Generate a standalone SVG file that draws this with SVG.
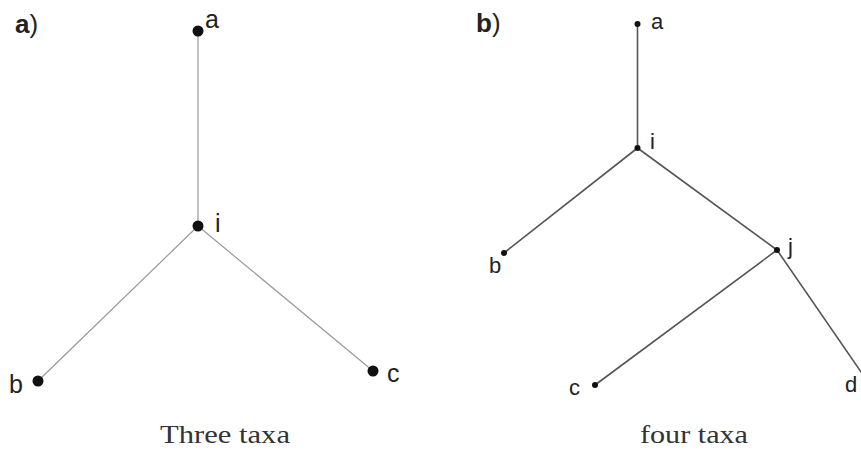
<svg xmlns="http://www.w3.org/2000/svg" width="861" height="450" viewBox="0 0 861 450">
<style>
.lbl{font-family:"Liberation Sans",Arial,sans-serif;font-size:25px;fill:#222}
.lblb{font-family:"Liberation Sans",Arial,sans-serif;font-size:22px;fill:#222}
.panel{font-family:"Liberation Sans",Arial,sans-serif;font-size:26px;fill:#222}
.cap{font-family:"Liberation Serif","Times New Roman",serif;font-size:26px;fill:#333}
.ea{stroke:#999;stroke-width:1.2;fill:none}
.eb{stroke:#555;stroke-width:1.6;fill:none}
.da{fill:#111}
.db{fill:#111}
</style>
<rect width="861" height="450" fill="#fff"/>
<text class="panel" x="15" y="33"><tspan font-weight="bold">a</tspan>)</text>
<text class="panel" x="476" y="32"><tspan font-weight="bold">b</tspan>)</text>
<g id="connectors">
<line class="ea" x1="198" y1="31" x2="198" y2="226"/>
<line class="ea" x1="198" y1="226" x2="38" y2="381"/>
<line class="ea" x1="198" y1="226" x2="373" y2="371"/>
<line class="eb" x1="637.5" y1="24" x2="637.5" y2="148"/>
<line class="eb" x1="637.5" y1="148" x2="504" y2="253"/>
<line class="eb" x1="637.5" y1="148" x2="777" y2="250"/>
<line class="eb" x1="777" y1="250" x2="595" y2="385"/>
<line class="eb" x1="777" y1="250" x2="868" y2="382"/>
</g>
<g id="a1"><circle class="da" cx="198" cy="31" r="5.5"/><text class="lbl" x="205" y="28">a</text></g>
<g id="i1"><circle class="da" cx="198" cy="226" r="5.5"/><text class="lbl" x="215" y="232">i</text></g>
<g id="b1"><circle class="da" cx="38" cy="381" r="5.5"/><text class="lbl" x="9" y="393">b</text></g>
<g id="c1"><circle class="da" cx="373" cy="371" r="5.5"/><text class="lbl" x="387" y="382">c</text></g>
<g id="a2"><circle class="db" cx="637.5" cy="24" r="3"/><text class="lblb" x="651" y="29">a</text></g>
<g id="i2"><circle class="db" cx="637.5" cy="148" r="3"/><text class="lblb" x="650" y="149">i</text></g>
<g id="b2"><circle class="db" cx="504" cy="253" r="3"/><text class="lblb" x="489" y="273">b</text></g>
<g id="j2"><circle class="db" cx="777" cy="250" r="3"/><text class="lblb" x="788" y="254">j</text></g>
<g id="c2"><circle class="db" cx="595" cy="385" r="3"/><text class="lblb" x="569" y="395">c</text></g>
<g id="d2"><text class="lblb" x="845" y="392">d</text></g>
<text class="cap" x="160" y="443" textLength="130" lengthAdjust="spacingAndGlyphs">Three taxa</text>
<text class="cap" x="640" y="443" textLength="108" lengthAdjust="spacingAndGlyphs">four taxa</text>
</svg>
